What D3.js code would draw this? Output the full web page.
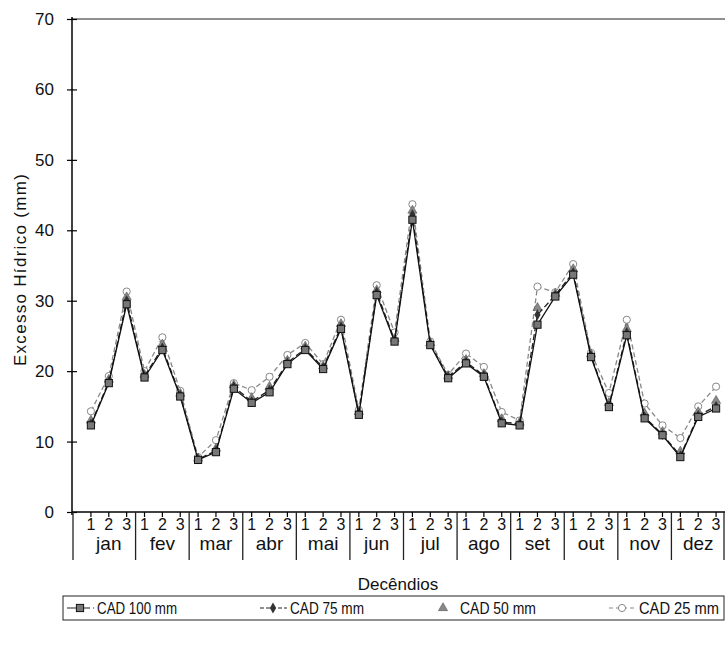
<!DOCTYPE html>
<html>
<head>
<meta charset="utf-8">
<script src="https://cdn.jsdelivr.net/npm/d3@7"></script>
<style>
  body { margin: 0; background: #fff; }
  text { fill: #111; }
</style>
</head>
<body>
<div class="chart"></div>
<script>
// data
var months = ["jan", "fev", "mar", "abr", "mai", "jun", "jul", "ago", "set", "out", "nov", "dez"];
var decLabels = ["1", "2", "3"];
var yTicks = [0, 10, 20, 30, 40, 50, 60, 70];
var seriesNames = ["CAD 100 mm", "CAD 75 mm", "CAD 50 mm", "CAD 25 mm"];

var cad100 = [12.3, 18.3, 29.5, 19.1, 23.0, 16.4, 7.4, 8.5, 17.5, 15.5, 17.0, 21.0, 23.0, 20.3, 26.0, 13.8, 30.8, 24.2, 41.5, 23.7, 19.0, 21.1, 19.2, 12.6, 12.3, 26.6, 30.6, 33.7, 22.0, 14.9, 25.1, 13.3, 10.9, 7.8, 13.5, 14.7];
var cad75 = [12.5, 18.5, 30.0, 19.3, 23.3, 16.6, 7.5, 8.7, 17.8, 15.7, 17.3, 21.2, 23.2, 20.5, 26.3, 14.0, 31.2, 24.4, 42.2, 23.9, 19.2, 21.3, 19.4, 12.8, 12.5, 28.0, 30.8, 34.0, 22.2, 15.1, 25.5, 13.5, 11.0, 8.0, 13.7, 15.0];
var cad50 = [13.0, 18.8, 30.5, 19.5, 23.8, 16.8, 7.6, 9.0, 18.0, 16.2, 17.8, 21.5, 23.5, 20.7, 26.7, 14.2, 31.5, 24.6, 42.8, 24.0, 19.3, 21.6, 19.6, 13.2, 12.7, 29.0, 31.0, 34.5, 22.4, 15.5, 26.0, 14.0, 11.4, 8.6, 14.2, 15.8];
var cad25 = [14.3, 19.3, 31.3, 20.0, 24.8, 17.2, 7.8, 10.2, 18.3, 17.3, 19.2, 22.3, 24.0, 21.0, 27.3, 14.5, 32.2, 25.5, 43.7, 24.2, 19.5, 22.5, 20.6, 14.2, 13.0, 32.0, 31.2, 35.2, 22.6, 16.9, 27.3, 15.4, 12.3, 10.5, 15.0, 17.8];

var svgWidth = 725;
var svgHeight = 652;
var narrow = "'Liberation Sans Narrow', 'Liberation Sans', Arial, sans-serif";

var svg = d3.select(".chart")
  .append("svg")
  .attr("width", svgWidth)
  .attr("height", svgHeight);

var axisX = 72, axisY = 512, topY = 19, rightX = 725;

// scales
var x = d3.scaleBand().domain(d3.range(36)).range([82, rightX]).padding(0);
var xm = d3.scaleBand().domain(months).range([82, rightX]).padding(0);
var y = d3.scaleLinear().domain([0, 70]).range([axisY, topY]);
var cx = function(i) { return x(i) + x.bandwidth() / 2; };

// frame top line
svg.append("line")
  .attr("x1", axisX).attr("x2", rightX)
  .attr("y1", topY).attr("y2", topY)
  .attr("stroke", "#222").attr("stroke-width", 1.2);

// y axis
var yAxis = svg.append("g")
  .attr("transform", `translate(${axisX},0)`)
  .call(d3.axisLeft(y).tickValues(yTicks).tickSize(5).tickPadding(13));
yAxis.select(".domain").attr("d", `M0,${topY - 2}V${axisY + 3}`).attr("stroke-width", 1.5);
yAxis.selectAll(".tick line").attr("x1", -5).attr("x2", 5).attr("stroke-width", 1.2);
yAxis.selectAll(".tick text")
  .style("font-family", narrow).style("font-size", "17px").attr("fill", "#111");

// x axis: decendios
var xAxis = svg.append("g")
  .attr("transform", `translate(0,${axisY})`)
  .call(d3.axisBottom(x).tickSize(5).tickPadding(2).tickFormat(function(i) { return decLabels[i % 3]; }));
xAxis.select(".domain").attr("d", `M${axisX},0H${rightX}`).attr("stroke-width", 1.5);
xAxis.selectAll(".tick line").attr("stroke-width", 1.2);
xAxis.selectAll(".tick text")
  .style("font-family", narrow).style("font-size", "16px").attr("fill", "#111");

// months row
var mAxis = svg.append("g")
  .attr("transform", `translate(0,${axisY + 23})`)
  .call(d3.axisBottom(xm).tickSize(0).tickPadding(1));
mAxis.select(".domain").remove();
mAxis.selectAll(".tick text")
  .style("font-family", narrow).style("font-size", "19px").attr("fill", "#111");

// month separators
var sepX = [axisX + 1].concat(months.slice(1).map(function(m) { return xm(m); })).concat([rightX - 1]);
svg.append("g").selectAll("line")
  .data(sepX)
  .join("line")
  .attr("x1", function(d) { return d; }).attr("x2", function(d) { return d; })
  .attr("y1", axisY).attr("y2", axisY + 48)
  .attr("stroke", "#222").attr("stroke-width", 1.3);

// axis titles
svg.append("text")
  .attr("transform", `translate(26,${(topY + axisY) / 2 + 4}) rotate(-90)`)
  .attr("text-anchor", "middle")
  .style("font-family", "'Liberation Sans', Arial, sans-serif").style("font-size", "17px")
  .style("letter-spacing", "1.3px")
  .text("Excesso Hídrico (mm)");

svg.append("text")
  .attr("x", 398).attr("y", 590)
  .attr("text-anchor", "middle")
  .style("font-family", narrow).style("font-size", "17px")
  .text("Decêndios");

// series
var series = [
  { name: seriesNames[3], values: cad25, dash: "5,3", stroke: "#888", line: true, shape: "circle" },
  { name: seriesNames[2], values: cad50, dash: null, stroke: "#777", line: false, shape: "triangle" },
  { name: seriesNames[1], values: cad75, dash: "6,3", stroke: "#222", line: true, shape: "diamond" },
  { name: seriesNames[0], values: cad100, dash: null, stroke: "#111", line: true, shape: "square" }
];

var line = d3.line()
  .x(function(d, i) { return cx(i); })
  .y(function(d) { return y(d); });

function drawMarker(g, shape) {
  if (shape === "circle") {
    g.append("circle").attr("r", 3.6).attr("fill", "#fff").attr("stroke", "#888").attr("stroke-width", 1);
  } else if (shape === "triangle") {
    g.append("path").attr("d", d3.symbol(d3.symbolTriangle, 36)()).attr("fill", "#888").attr("stroke", "#555").attr("stroke-width", 0.6);
  } else if (shape === "diamond") {
    g.append("path").attr("d", d3.symbol(d3.symbolDiamond, 34)()).attr("fill", "#333");
  } else {
    g.append("rect").attr("x", -3.6).attr("y", -3.6).attr("width", 7.2).attr("height", 7.2)
      .attr("fill", "#777").attr("stroke", "#111").attr("stroke-width", 1);
  }
}

series.forEach(function(s) {
  if (s.line) {
    svg.append("path")
      .datum(s.values)
      .attr("d", line)
      .attr("fill", "none")
      .attr("stroke", s.stroke)
      .attr("stroke-width", 1.3)
      .attr("stroke-dasharray", s.dash);
  }
  svg.append("g").selectAll("g")
    .data(s.values)
    .join("g")
    .attr("transform", function(d, i) { return `translate(${cx(i)},${y(d)})`; })
    .each(function() { drawMarker(d3.select(this), s.shape); });
});

// legend
var legend = svg.append("g");
legend.append("rect")
  .attr("x", 63).attr("y", 596).attr("width", 661).attr("height", 24)
  .attr("fill", "#fff").attr("stroke", "#222").attr("stroke-width", 1);

var legendItems = [
  { name: seriesNames[0], x: 80, w: 80, dash: "10,3", line: true, shape: "square" },
  { name: seriesNames[1], x: 273, w: 74, dash: "4,2", line: true, shape: "diamond" },
  { name: seriesNames[2], x: 443, w: 76, dash: null, line: false, shape: "triangle" },
  { name: seriesNames[3], x: 622, w: 80, dash: "4,3", line: true, shape: "circle" }
];
legendItems.forEach(function(it) {
  var g = legend.append("g").attr("transform", `translate(${it.x},608)`);
  if (it.line) {
    g.append("line").attr("x1", -13).attr("x2", 14).attr("y1", 0).attr("y2", 0)
      .attr("stroke", it.shape === "circle" ? "#888" : "#222").attr("stroke-width", 1.2)
      .attr("stroke-dasharray", it.dash);
  }
  drawMarker(g, it.shape);
  g.append("text").attr("x", 17).attr("y", 5.5)
    .attr("textLength", it.w).attr("lengthAdjust", "spacingAndGlyphs")
    .style("font-family", narrow).style("font-size", "16px")
    .text(it.name);
});
</script>
</body>
</html>
